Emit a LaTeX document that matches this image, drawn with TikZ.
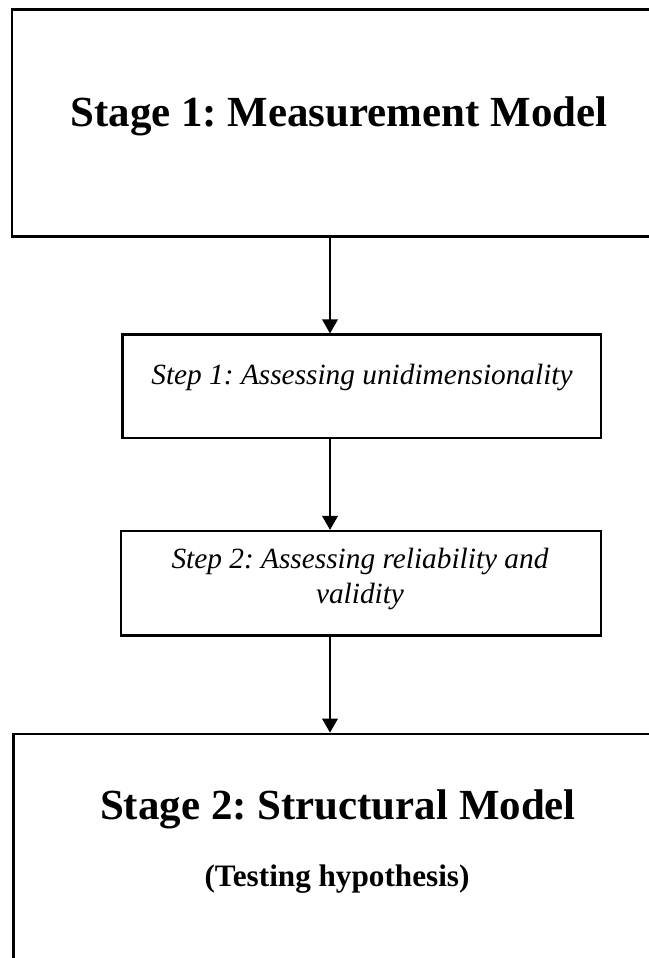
\documentclass[tikz,border=0pt]{standalone}
\usepackage{fontspec}
\setmainfont{Liberation Serif}
\usetikzlibrary{arrows.meta}
\frenchspacing

\tikzset{
  stagebox/.style={draw=black, line width=2pt, rectangle, inner sep=0pt},
  stepbox/.style={draw=black, line width=1.6pt, rectangle, inner sep=0pt},
  stagetitle/.style={font=\bfseries\fontsize{32.2}{38}\selectfont, inner sep=0pt, anchor=base},
  stagesub/.style={font=\bfseries\fontsize{23.4}{28}\selectfont, inner sep=0pt, anchor=base},
  steptext/.style={font=\itshape\fontsize{22}{26.25}\selectfont, inner sep=0pt, anchor=base, align=center},
  flow/.style={line width=1.7pt, -{Triangle[width=11.5pt, length=10.5pt]}}
}

\begin{document}
\begin{tikzpicture}[x=0.75pt, y=-0.75pt]
  \useasboundingbox (0,0) rectangle (649,958);
  \clip (0,0) rectangle (649,958);

  % boxes
  \node[stagebox, minimum width=488.25pt, minimum height=170.25pt] (stage1) at (337.5,123) {};
  \node[stepbox, minimum width=358.9pt, minimum height=77.6pt] (step1) at (361.75,386.25) {};
  \node[stepbox, minimum width=360pt, minimum height=78.4pt] (step2) at (361,583.25) {};
  \node[stagebox, minimum width=487.1pt, minimum height=199.5pt] (stage2) at (338.25,867) {};

  % texts (a two-line node sits on the baseline of its last line)
  \node[stagetitle] (stage1title) at (339,126.7) {Stage 1: Measurement Model};
  \node[steptext] (step1text) at (362,384) {Step 1: Assessing unidimensionality};
  \node[steptext] (step2text) at (360,603) {Step 2: Assessing reliability and\\validity};
  \node[stagetitle] (stage2title) at (338,819.3) {Stage 2: Structural Model};
  \node[stagesub] (stage2sub) at (337,886) {(Testing hypothesis)};

  % connectors along the common vertical axis
  \coordinate (axis) at (330,0);
  \draw[flow] (stage1.south -| axis) -- (step1.north -| axis);
  \draw[flow] (step1.south -| axis) -- (step2.north -| axis);
  \draw[flow] (step2.south -| axis) -- (stage2.north -| axis);
\end{tikzpicture}
\end{document}
